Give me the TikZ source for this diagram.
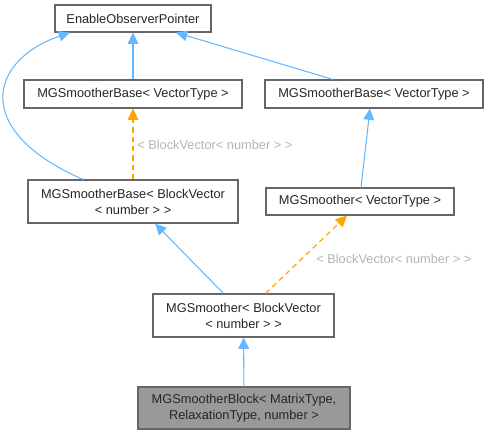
\documentclass[tikz,border=0pt]{standalone}
\usepackage{fontspec}
\setmainfont{Liberation Sans}
\usetikzlibrary{positioning, arrows.meta, calc}

\definecolor{inhblue}{HTML}{63B8FF}
\definecolor{tplorange}{HTML}{FFA500}
\definecolor{boxgray}{HTML}{666666}
\definecolor{lblgray}{HTML}{B4B4B4}

\tikzset{
  cls/.style={draw=boxgray, line width=0.8pt, fill=white, align=center, inner sep=1pt,
    font=\fontsize{9.6}{12}\selectfont, text=black!85},
  inh/.style={draw=inhblue, line width=0.8pt, -{Triangle[length=8.5pt,width=8pt]}},
  tpl/.style={draw=tplorange, line width=0.9pt, dash pattern=on 4pt off 3pt,
    -{Triangle[length=8.5pt,width=8pt]}},
  tlabel/.style={anchor=west, inner sep=0pt, text=lblgray, font=\fontsize{9.6}{12}\selectfont}
}

\begin{document}
\begin{tikzpicture}[x=0.75pt, y=-0.75pt]
\useasboundingbox (0, 0) rectangle (489, 435);

\node[cls, minimum width=117pt, minimum height=20.25pt] (eop) at (133, 18.5) {EnableObserverPointer};
\node[cls, minimum width=163.5pt, minimum height=21pt] (sbl) at (133, 94) {MGSmootherBase< VectorType >};
\node[cls, minimum width=163.5pt, minimum height=21pt] (sbr) at (374, 94) {MGSmootherBase< VectorType >};
\node[cls, minimum width=157.5pt, minimum height=32.25pt] (sbbv) at (133, 201.5) {MGSmootherBase< BlockVector\\< number > >};
\node[cls, minimum width=141pt, minimum height=20.25pt] (sm) at (360, 201.5) {MGSmoother< VectorType >};
\node[cls, minimum width=135.75pt, minimum height=32.25pt] (smbv) at (243.5, 315.5) {MGSmoother< BlockVector\\< number > >};
\node[cls, fill=black!40, minimum width=159pt, minimum height=31.5pt] (blk) at (244, 408) {MGSmootherBlock< MatrixType,\\ RelaxationType, number >};

% labels of the template edges
\node[tlabel] (lblleft) at (137, 145) {< BlockVector< number > >};
\node[tlabel] (lblright) at (316, 259) {< BlockVector< number > >};

% inheritance
\draw[inh] (sbl) -- (eop);
\draw[inh] ($(sbr.north)+(-41, 0)$) -- ($(eop.south)+(43, 0)$);
\draw[inh] ($(sbbv.north)+(-50, 0)$) .. controls (-30, 130) and (-10, 60) .. ($(eop.south)+(-63, 0)$);
\draw[inh] ($(sm.north)+(1, 0)$) -- ($(sbr.south)+(-4, 0)$);
\draw[inh] ($(smbv.north)+(-20, 0)$) -- ($(sbbv.south)+(22, 0)$);
\draw[inh] (blk) -- (smbv);

% template instances
\draw[tpl] (sbbv) -- (sbl);
\draw[tpl] ($(smbv.north)+(22, 0)$) -- ($(sm.south)+(-13, 0)$);
\end{tikzpicture}
\end{document}
